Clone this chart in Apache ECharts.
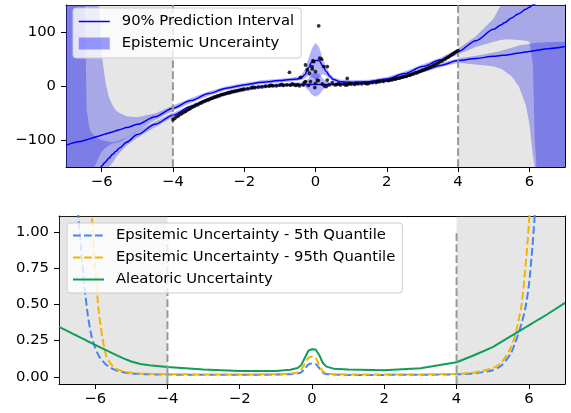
<!DOCTYPE html>
<html><head><meta charset="utf-8">
<script src="https://cdn.jsdelivr.net/npm/echarts@6/dist/echarts.min.js"></script>
<style>html,body{margin:0;padding:0;background:#fff;}#c{width:571px;height:413px;}</style>
</head><body><div id="c"></div>
<script>
// ---------- data ----------
const xTicks = [-6, -4, -2, 0, 2, 4, 6];
const topYTicks = [-100, 0, 100];
const botYTicks = [0, 0.25, 0.5, 0.75, 1.0];
const oodRegions = [[-7, -4], [4, 7]];
const trainEdges = [-4, 4];

const bandX = [-7,-6.6,-6.5,-6.47,-6.42,-6.35,-6.3,-6.2,-6.1,-6.07,-6.0,-5.9,-5.8,-5.7,-5.6,-5.5,-5.3,-5,-4.5,-4,-3.5,-3,-2.5,-2,-1.5,-1,-0.7,-0.5,-0.4,-0.3,-0.2,-0.1,0,0.1,0.2,0.3,0.4,0.5,0.7,1,1.5,2,2.5,3,3.5,4,4.5,5,5.2,5.3,5.5,5.7,5.9,6.0,6.1,6.15,6.2,6.5,7];
const upperQ = [-110,-103,-101,-100.5,-99.5,-98,-97,-95,-93,-92.5,-91,-89,-87,-85,-83,-81,-77,-71,-57,-41,-27,-14,-4,2,7,10,12,13,15,21,34,45,47,47,38,27,18,12,8,7,8,13,23,36,48,64,84,105,113,117,126,134,142,146,150,152,154,168,190];
const upperQHi = [400,400,400,400,400,400,400,400,300,150,60,10,-20,-35,-45,-50,-56,-58,-51,-36,-22.5,-10,-0.5,5.5,10.5,13.5,15.5,17,20,30,50,70,80,72,52,35,23,16,11.5,10.5,11.5,16.5,27,40,52.5,69,92,125,155,200,400,400,400,400,400,400,400,400,400];
const upperQLo = [-400,-400,-400,-400,-400,-400,-300,-160,-135,-130,-122,-115,-110,-107,-105,-104,-96,-84,-63,-46,-31.5,-18,-7.5,-1.5,3.5,6.5,8.5,9.5,11,14,19,16,12,15,22,19,13,8.5,5,3.5,4.5,9.5,19,32,43.5,59,72,82,85,86,86,85,84,82,40,-100,-300,-400,-400];
const lowerQ = [-300,-230,-215,-211,-204,-194,-187,-173,-160,-156,-148,-141,-134,-127,-121,-115,-104,-90,-71,-54,-38,-25,-14,-6,-1,1.5,2.5,3,3,3,3,3,3,3,3,3,3,3,3.5,4,6,10,17,28,38,47,51,55,56.5,57,59,61,63,64,65,65.5,66,69,73];
const lowerQHi = [400,400,400,150,-45,-75,-85,-93,-97,-98,-100,-102,-103,-104,-103,-101,-95,-83,-66,-50,-34.5,-21.5,-10.5,-2.5,2.5,5,6,6.5,7,9,14,22,25,22,14,9,7,6.5,7,7.5,9.5,13.5,21,32,42,51,56,62,65,67,71,75,77,78,79,79.5,80,81,82];
const lowerQLo = [-400,-400,-400,-400,-400,-400,-400,-350,-300,-280,-250,-200,-165,-143,-132,-124,-110,-96,-76,-58,-41.5,-28.5,-17.5,-9.5,-4.5,-1.5,-0.5,0,-0.5,-2,-8,-16,-20,-16,-8,-2,-0.5,0,0.5,1,3,7,13.5,24.5,34.5,43,40,36,32,28,18,0,-35,-70,-130,-170,-250,-400,-400];

const obsX = [-4,-3.95,-3.9,-3.85,-3.8,-3.75,-3.7,-3.65,-3.6,-3.55,-3.5,-3.45,-3.4,-3.35,-3.3,-3.25,-3.2,-3.15,-3.1,-3.05,-3,-2.95,-2.9,-2.85,-2.8,-2.75,-2.7,-2.65,-2.6,-2.55,-2.5,-2.45,-2.4,-2.35,-2.3,-2.25,-2.2,-2.15,-2.1,-2.05,-2,-1.9,-1.8,-1.75,-1.7,-1.6,-1.5,-1.4,-1.3,-1.25,-1.2,-1.1,-1,-0.95,-0.9,-0.8,-0.7,-0.65,-0.6,-0.55,-0.5,-0.45,
  -0.73,-0.42,-0.35,-0.31,-0.28,-0.28,-0.23,-0.2,-0.17,-0.14,-0.1,-0.09,-0.07,-0.05,-0.02,0,0,0.05,0.08,0.09,0.12,0.17,0.19,0.23,0.25,0.3,0.33,0.33,0.38,0.47,
  0.55,0.6,0.65,0.7,0.8,0.85,0.89,0.9,0.95,1,1.1,1.15,1.2,1.3,1.4,1.45,1.5,1.6,1.7,1.75,1.8,1.9,2,2.05,2.1,2.15,2.2,2.25,2.3,2.35,2.4,2.45,2.5,2.55,2.6,2.65,2.7,2.75,2.8,2.85,2.9,2.95,3,3.05,3.1,3.15,3.2,3.25,3.3,3.35,3.4,3.45,3.5,3.55,3.6,3.65,3.7,3.75,3.8,3.85,3.9,3.95,4];
const obsY = [-62.5,-60,-57,-55.5,-52.5,-51,-48.5,-47,-44.5,-43,-41,-38.5,-37.5,-35,-34.5,-32,-31,-29,-28,-26,-25.5,-23.5,-22.5,-20.5,-20,-18.5,-18,-16,-15.5,-14.5,-13.5,-12.5,-12,-10.5,-10,-9.5,-8.5,-8,-7,-6.5,-6,-5,-3.5,-2,-3,-2,-1.5,-0.5,0,1.5,0.5,0.5,1.5,3,1,2,1.5,4,2.5,1,2.5,0.5,
  25.4,16,2,6.8,39,8,29.7,1,23.6,8,36,31.6,47,45,-3,5,26.6,11,10,111.5,51.5,49.6,3.7,36,0.5,-1,36,11,2,6,
  2,3,4.5,2,3.5,1.5,14,2.5,5,3.5,3,5.5,4,4,5,4,5,6.5,6.5,8.5,8,8.5,10.5,10,11.5,11.5,13,13,14.5,14.5,16,16.5,18,18,20,20,22,22.5,24.5,24.5,26.5,27.5,29.5,30,32,33,35,36,38.5,39,41.5,43,45.5,46.5,49,50.5,53,54.5,57,59,61.5,63.5,65.5];

const bottomX = [-7,-6.8,-6.6,-6.5,-6.4,-6.3,-6.2,-6.1,-6.0,-5.9,-5.8,-5.7,-5.6,-5.5,-5.4,-5.2,-5.0,-4.75,-4.5,-4,-3,-2,-1,-0.6,-0.4,-0.3,-0.2,-0.1,0,0.1,0.2,0.3,0.4,0.6,1,2,3,4,4.5,5,5.25,5.5,5.6,5.7,5.8,5.9,6.0,6.1,6.2,6.3,6.5,7];
const epiQ5 = [3.5,2.5,1.6,1.22,0.92,0.64,0.42,0.28,0.2,0.145,0.11,0.085,0.067,0.052,0.042,0.03,0.023,0.019,0.017,0.015,0.014,0.014,0.015,0.018,0.022,0.03,0.055,0.085,0.092,0.088,0.06,0.028,0.019,0.015,0.013,0.013,0.014,0.017,0.024,0.045,0.08,0.16,0.22,0.29,0.37,0.47,0.63,0.9,1.25,1.65,2.5,5];
const epiQ95 = [8,6,4,3.3,2.6,2.0,1.55,1.15,0.75,0.45,0.27,0.15,0.1,0.07,0.052,0.036,0.027,0.022,0.02,0.018,0.016,0.016,0.018,0.022,0.03,0.05,0.09,0.13,0.138,0.13,0.08,0.038,0.024,0.018,0.016,0.015,0.016,0.02,0.03,0.06,0.1,0.2,0.27,0.37,0.5,0.74,1.05,1.45,2,2.5,3.5,6];
const aleatoric = [0.345,0.32,0.295,0.283,0.27,0.258,0.245,0.232,0.22,0.208,0.196,0.184,0.172,0.16,0.148,0.125,0.105,0.088,0.08,0.068,0.05,0.04,0.04,0.048,0.06,0.08,0.13,0.18,0.19,0.188,0.15,0.095,0.07,0.056,0.05,0.045,0.058,0.1,0.15,0.205,0.243,0.28,0.295,0.31,0.325,0.34,0.355,0.37,0.385,0.4,0.43,0.51];

// ---------- helpers ----------
const FONT = 'DejaVu Sans';
const FS = 14.8;
const zip = (xs, ys) => xs.map((x, i) => [x, ys[i]]);
const minusFmt = v => (v < 0 ? '\u2212' : '') + Math.abs(v);
const TOPY = [-150, 150];

function xAxes(grid) {
  return [
    {gridIndex: grid, type: 'value', min: -7, max: 7, position: 'bottom',
     axisLine: {show: true, onZero: false, lineStyle: {color: '#000', width: 1}},
     axisTick: {show: true, customValues: xTicks, length: 5, lineStyle: {color: '#000', width: 1}},
     axisLabel: {show: true, customValues: xTicks, formatter: minusFmt, margin: 8, color: '#000', fontSize: FS, fontFamily: FONT},
     splitLine: {show: false}},
    {gridIndex: grid, type: 'value', min: -7, max: 7, position: 'top',
     axisLine: {show: true, onZero: false, lineStyle: {color: '#000', width: 1}},
     axisTick: {show: false}, axisLabel: {show: false}, splitLine: {show: false}}
  ];
}
function yAxes(grid, min, max, ticks, fmt) {
  return [
    {gridIndex: grid, type: 'value', min: min, max: max, position: 'left',
     axisLine: {show: true, onZero: false, lineStyle: {color: '#000', width: 1}},
     axisTick: {show: true, customValues: ticks, length: 5, lineStyle: {color: '#000', width: 1}},
     axisLabel: {show: true, customValues: ticks, formatter: fmt, margin: 10, color: '#000', fontSize: FS, fontFamily: FONT},
     splitLine: {show: false}},
    {gridIndex: grid, type: 'value', min: min, max: max, position: 'right',
     axisLine: {show: true, onZero: false, lineStyle: {color: '#000', width: 1}},
     axisTick: {show: false}, axisLabel: {show: false}, splitLine: {show: false}}
  ];
}
function shade(xi, yi, z) {
  return {type: 'custom', xAxisIndex: xi, yAxisIndex: yi, silent: true, z: z, data: oodRegions,
    renderItem(params, api) {
      const x0 = api.coord([api.value(0), 0])[0];
      const x1 = api.coord([api.value(1), 0])[0];
      const cs = params.coordSys;
      return {type: 'rect', shape: {x: x0, y: cs.y, width: x1 - x0, height: cs.height},
              style: {fill: 'rgba(128,128,128,0.2)'}};
    }};
}
function band(name, lo, hi) {
  return {type: 'custom', name: name, xAxisIndex: 0, yAxisIndex: 0, silent: true, clip: true, z: 2,
    data: [[0, 0]],
    renderItem(params, api) {
      const c = v => Math.max(TOPY[0], Math.min(TOPY[1], v));
      const pts = [];
      for (let i = 0; i < bandX.length; i++) pts.push(api.coord([bandX[i], c(hi[i])]));
      for (let i = bandX.length - 1; i >= 0; i--) pts.push(api.coord([bandX[i], c(lo[i])]));
      return {type: 'polygon', shape: {points: pts}, style: {fill: 'rgba(0,0,255,0.3)'}};
    }};
}
function vline(xi, yi, x, y0, y1) {
  return {type: 'line', xAxisIndex: xi, yAxisIndex: yi, silent: true, z: 5, symbol: 'none',
    data: [[x, y0], [x, y1]], lineStyle: {color: '#999', width: 2, type: [7.7, 3.3]}};
}
function qline(name, ys) {
  return {type: 'line', name: name, xAxisIndex: 0, yAxisIndex: 0, z: 4, symbol: 'none',
    smooth: 0.3, smoothMonotone: 'x', clip: true, data: zip(bandX, ys),
    lineStyle: {color: '#0000ff', width: 1.5}, itemStyle: {color: '#0000ff'}};
}
function uline(name, ys, color, dashed, smooth) {
  return {type: 'line', name: name, xAxisIndex: 2, yAxisIndex: 2, z: 4, symbol: 'none',
    smooth: smooth, clip: true, data: zip(bottomX, ys),
    lineStyle: {color: color, width: 2, type: dashed ? [7.7, 3.3] : 'solid'}, itemStyle: {color: color}};
}
function lineItem(name, color, dashed, width) {
  return {name: name, itemStyle: {opacity: 0, color: 'rgba(0,0,0,0)', borderWidth: 0},
          lineStyle: {color: color, width: width, type: dashed ? [7.7, 3.3] : 'solid', opacity: 1}};
}

const legendCommon = {
  orient: 'vertical', itemGap: 7, itemWidth: 31, itemHeight: 12, z: 10, selectedMode: false,
  textStyle: {fontSize: FS, fontFamily: FONT, color: '#000', padding: [0, 0, 0, 7]},
  backgroundColor: 'rgba(255,255,255,0.8)', borderColor: '#cccccc', borderWidth: 1, borderRadius: 3
};

const option = {
  animation: false,
  backgroundColor: '#fff',
  textStyle: {fontFamily: FONT},
  grid: [
    {left: 66, top: 5, width: 499, height: 162},
    {left: 59, top: 216, width: 506, height: 168}
  ],
  xAxis: [...xAxes(0), ...xAxes(1)],
  yAxis: [...yAxes(0, -150, 150, topYTicks, minusFmt), ...yAxes(1, -0.05, 1.11, botYTicks, v => v.toFixed(2))],
  legend: [
    Object.assign({}, legendCommon, {left: 73, top: 8, padding: [6, 7, 7, 5],
      data: [lineItem('90% Prediction Interval', '#0000ff', false, 1.5),
             {name: 'Epistemic Uncerainty', icon: 'rect', itemStyle: {color: 'rgba(0,0,255,0.38)', borderWidth: 0}}]}),
    Object.assign({}, legendCommon, {left: 67, top: 223, padding: [5, 7, 6, 5],
      data: [lineItem('Epsitemic Uncertainty - 5th Quantile', '#4285F4', true, 2),
             lineItem('Epsitemic Uncertainty - 95th Quantile', '#F4B400', true, 2),
             lineItem('Aleatoric Uncertainty', '#0F9D58', false, 2)]})
  ],
  series: [
    band('Epistemic Uncerainty', upperQLo, upperQHi),
    band('lowerBand', lowerQLo, lowerQHi),
    shade(0, 0, 3),
    qline('90% Prediction Interval', upperQ),
    qline('90% Prediction Interval', lowerQ),
    vline(0, 0, trainEdges[0], -150, 150),
    vline(0, 0, trainEdges[1], -150, 150),
    {type: 'scatter', name: 'obs', xAxisIndex: 0, yAxisIndex: 0, z: 6, symbolSize: 3.8,
     data: zip(obsX, obsY), itemStyle: {color: '#000'}, silent: true},
    shade(2, 2, 1),
    vline(2, 2, trainEdges[0], -0.05, 1.0),
    vline(2, 2, trainEdges[1], -0.05, 1.0),
    uline('Epsitemic Uncertainty - 5th Quantile', epiQ5, '#4285F4', true, 0.25),
    uline('Epsitemic Uncertainty - 95th Quantile', epiQ95, '#F4B400', true, 0.25),
    uline('Aleatoric Uncertainty', aleatoric, '#0F9D58', false, false)
  ]
};
const chart = echarts.init(document.getElementById('c'), null, {renderer: 'canvas'});
chart.setOption(option);
</script></body></html>
